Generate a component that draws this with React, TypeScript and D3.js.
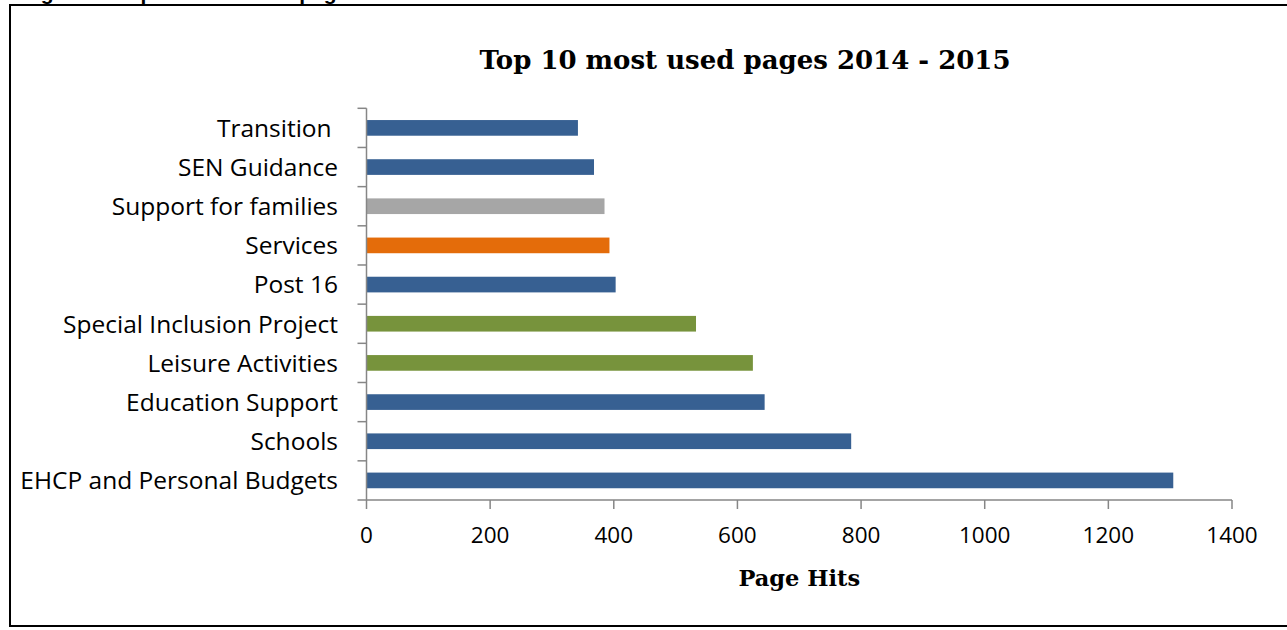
import React from "react";
import * as d3 from "d3";

const categories = [
  "Transition ",
  "SEN Guidance",
  "Support for families",
  "Services",
  "Post 16",
  "Special Inclusion Project",
  "Leisure Activities",
  "Education Support",
  "Schools",
  "EHCP and Personal Budgets",
];
const pageHits = [342, 368, 385, 393, 403, 533, 625, 644, 784, 1305];
const barColors = [
  "#376092", "#376092", "#A6A6A6", "#E46C0A", "#376092",
  "#77933C", "#77933C", "#376092", "#376092", "#376092",
];
const xTicks = [0, 200, 400, 600, 800, 1000, 1200, 1400];
const chartTitle = "Top 10 most used pages 2014 - 2015";
const xAxisTitle = "Page Hits";
const figureCaption = "Figure 3: Top 10 most used pages";

const W = 1287;
const H = 630;
const plot = { left: 366.5, right: 1232, top: 108.3, bottom: 500 };
const axisColor = "#868686";
const sans = "'Open Sans', sans-serif";
const serif = "'DejaVu Serif', serif";

export default function App() {
  const x = d3.scaleLinear().domain([0, 1400]).range([plot.left, plot.right]);
  const y = d3
    .scaleBand<string>()
    .domain(categories)
    .range([plot.top, plot.bottom])
    .paddingInner(0.6)
    .paddingOuter(0.3);
  const bandStep = y.step();
  const boundaries = d3.range(categories.length + 1).map((i) => plot.top + i * bandStep);

  return (
    <svg
      width={W}
      height={H}
      style={{ position: "absolute", left: 0, top: 0, background: "#fff" }}
    >
      <rect x={0} y={0} width={W} height={H} fill="#fff" />
      <text
        x={22}
        y={0}
        fontFamily="'Liberation Sans', Arial, sans-serif"
        fontWeight="bold"
        fontSize={21}
        fill="#000"
      >
        {figureCaption}
      </text>
      <rect x={10} y={5} width={1400} height={621} fill="none" stroke="#000" strokeWidth={2} />

      <text
        x={745}
        y={69}
        textAnchor="middle"
        fontFamily={serif}
        fontWeight="bold"
        fontSize={26}
        fill="#000"
      >
        {chartTitle}
      </text>

      {categories.map((c, i) => (
        <rect
          key={c}
          x={x(0)}
          y={y(c)}
          width={x(pageHits[i]) - x(0)}
          height={y.bandwidth()}
          fill={barColors[i]}
        />
      ))}

      {/* y axis */}
      <line x1={plot.left} x2={plot.left} y1={plot.top} y2={plot.bottom} stroke={axisColor} strokeWidth={1.5} />
      {boundaries.map((b, i) => (
        <line key={i} x1={plot.left - 9} x2={plot.left} y1={b} y2={b} stroke={axisColor} strokeWidth={1.5} />
      ))}
      {categories.map((c) => (
        <text
          key={c}
          x={338}
          y={(y(c) as number) + y.bandwidth() / 2}
          dy="0.36em"
          textAnchor="end"
          fontFamily={sans}
          fontSize={24.5}
          fill="#000"
          style={{ whiteSpace: "pre" }}
        >
          {c}
        </text>
      ))}

      {/* x axis */}
      <line x1={plot.left} x2={plot.right} y1={plot.bottom} y2={plot.bottom} stroke={axisColor} strokeWidth={1.5} />
      {xTicks.map((t) => (
        <g key={t}>
          <line x1={x(t)} x2={x(t)} y1={plot.bottom} y2={plot.bottom + 9} stroke={axisColor} strokeWidth={1.5} />
          <text
            x={x(t)}
            y={543}
            textAnchor="middle"
            fontFamily={sans}
            fontSize={22.5}
            fill="#000"
          >
            {t}
          </text>
        </g>
      ))}
      <text
        x={(plot.left + plot.right) / 2}
        y={586}
        textAnchor="middle"
        fontFamily={serif}
        fontWeight="bold"
        fontSize={22.5}
        fill="#000"
      >
        {xAxisTitle}
      </text>
    </svg>
  );
}
